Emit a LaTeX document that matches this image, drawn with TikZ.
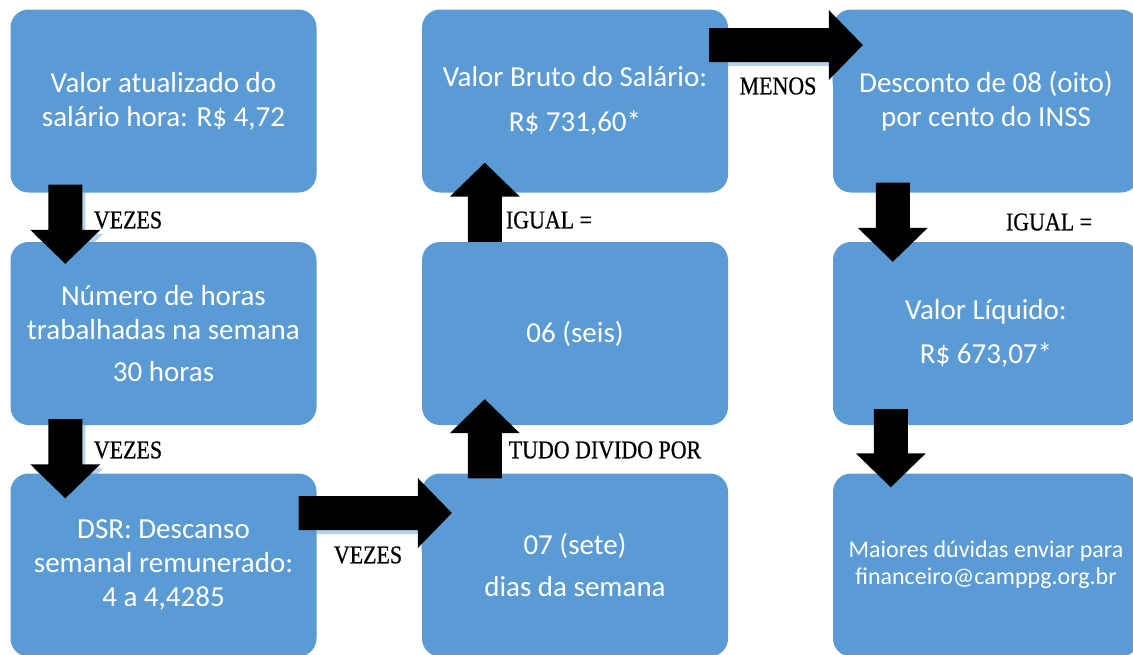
\documentclass[tikz,border=0pt]{standalone}
\usepackage{fontspec}
\setmainfont{Carlito}
\newfontfamily\lblfont[FakeStretch=0.86, FakeBold=0.6]{Liberation Serif}
\usetikzlibrary{calc}
\definecolor{boxblue}{RGB}{91,155,213}

\tikzset{
  box/.style={rectangle, rounded corners=18pt, fill=boxblue, text=white, align=center,
    minimum width=306pt, minimum height=183pt, inner sep=0pt, font=\fontsize{29}{34}\selectfont},
  smalltext/.style={font=\fontsize{24}{27}\selectfont},
  lbl/.style={font=\lblfont\fontsize{25.5}{30}\selectfont, inner sep=0pt},
  arrowshadow/.style={fill=boxblue, fill opacity=0.45},
  noshadow/.style={fill=none},
}

% block arrow from #2 (tail) to #3 (tip), #1 = shadow style
\newcommand{\blockarrow}[3][noshadow]{%
  \coordinate (hb) at ($(#3)!34pt!(#2)$);
  \coordinate (p1) at ($(#2)!17pt!90:(#3)$);
  \coordinate (p2) at ($(hb)!17pt!90:(#3)$);
  \coordinate (p3) at ($(hb)!35pt!90:(#3)$);
  \coordinate (p4) at ($(hb)!35pt!-90:(#3)$);
  \coordinate (p5) at ($(hb)!17pt!-90:(#3)$);
  \coordinate (p6) at ($(#2)!17pt!-90:(#3)$);
  \path[#1] ([shift={(3,-4)}]p1) -- ([shift={(3,-4)}]p2) -- ([shift={(3,-4)}]p3)
    -- ([shift={(3,-4)}]#3) -- ([shift={(3,-4)}]p4) -- ([shift={(3,-4)}]p5)
    -- ([shift={(3,-4)}]p6) -- cycle;
  \fill (p1) -- (p2) -- (p3) -- (#3) -- (p4) -- (p5) -- (p6) -- cycle;
}

\begin{document}
\begin{tikzpicture}[x=1pt, y=1pt]
    \useasboundingbox (0,0) rectangle (1133,-654);
    \clip (0,0) rectangle (1133,-654);

    % first column
    \node[box] (salhora) at (163.5,-101) {Valor atualizado do\\salário hora: R\$ 4,72};
    \node[box] (horas) at (163.5,-333.5) {Número de horas\\trabalhadas na semana\\[8pt]30 horas};
    \node[box] (dsr) at (163.5,-565) {DSR: Descanso\\semanal remunerado:\\4 a 4,4285};

    % second column
    \node[box] (bruto) at (575,-101) {Valor Bruto do Salário:\\[11pt]R\$ 731,60*};
    \node[box] (seis) at (575,-333.5) {06 (seis)};
    \node[box] (sete) at (575,-565) {07 (sete)\\[8pt]dias da semana};

    % third column
    \node[box] (inss) at (986,-101) {Desconto de 08 (oito)\\por cento do INSS};
    \node[box] (liquido) at (986,-333.5) {Valor Líquido:\\[10pt]R\$ 673,07*};
    \node[box, smalltext] (duvidas) at (986,-565) {Maiores dúvidas enviar para\\financeiro@camppg.org.br};

    % arrow ends
    \coordinate (a1) at ($(salhora.south west)+(55,8)$);
    \coordinate (b1) at ($(horas.north west)+(55,-22)$);
    \coordinate (a2) at ($(horas.south west)+(55,6)$);
    \coordinate (b2) at ($(dsr.north west)+(55,-25)$);
    \coordinate (a3) at ($(dsr.east)+(-18,52)$);
    \coordinate (b3) at ($(sete.west)+(30,52)$);
    \coordinate (a4) at ($(sete.north west)+(63,-5)$);
    \coordinate (b4) at ($(seis.south west)+(63,26)$);
    \coordinate (a5) at ($(seis.north west)+(63,0)$);
    \coordinate (b5) at ($(bruto.south west)+(63,30)$);
    \coordinate (a6) at ($(bruto.east)+(-19,56)$);
    \coordinate (b6) at ($(inss.west)+(30,56)$);
    \coordinate (a7) at ($(inss.south west)+(60,10)$);
    \coordinate (b7) at ($(liquido.north west)+(60,-20)$);
    \coordinate (a8) at ($(liquido.south west)+(58,16)$);
    \coordinate (b8) at ($(duvidas.north west)+(58,-14)$);

    \blockarrow[arrowshadow]{a1}{b1}
    \blockarrow[arrowshadow]{a2}{b2}
    \blockarrow[arrowshadow]{a3}{b3}
    \blockarrow{a4}{b4}
    \blockarrow{a5}{b5}
    \blockarrow[arrowshadow]{a6}{b6}
    \blockarrow{a7}{b7}
    \blockarrow{a8}{b8}

    % labels
    \node[lbl] (vezes1) at (128,-220) {VEZES};
    \node[lbl] (vezes2) at (128,-450) {VEZES};
    \node[lbl] (vezes3) at (368,-555) {VEZES};
    \node[lbl] (tudo) at (605,-450) {TUDO DIVIDO POR};
    \node[lbl] (igual1) at (549,-220) {IGUAL =};
    \node[lbl] (menos) at (778,-86) {MENOS};
    \node[lbl] (igual2) at (1049,-222) {IGUAL =};
\end{tikzpicture}
\end{document}
